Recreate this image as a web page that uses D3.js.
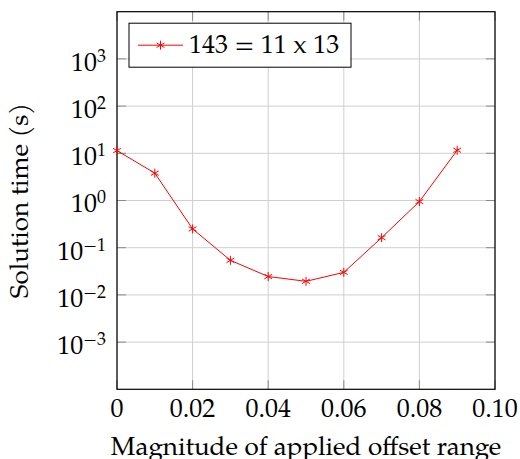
<!DOCTYPE html>
<html>
<head>
<meta charset="utf-8">
<script src="https://cdn.jsdelivr.net/npm/d3@7"></script>
</head>
<body style="margin:0; background:#fff">
<svg id="chart"></svg>
<script>
const offsets = [0, 0.01, 0.02, 0.03, 0.04, 0.05, 0.06, 0.07, 0.08, 0.09];
const times = [11.4, 3.8, 0.25, 0.054, 0.0245, 0.0194, 0.030, 0.163, 0.95, 11.6];
const xTicks = [0, 0.02, 0.04, 0.06, 0.08, 0.10];
const xTickLabels = ["0", "0.02", "0.04", "0.06", "0.08", "0.10"];
const yExponents = [-3, -2, -1, 0, 1, 2, 3];
const seriesName = "143 = 11 x 13";

const svgWidth = 520, svgHeight = 459;
const margin = { top: 11.7, right: 25, bottom: 69.7, left: 117 };
const width = svgWidth - margin.left - margin.right;
const height = svgHeight - margin.top - margin.bottom;
const font = "'TeX Gyre Pagella', 'Liberation Serif', serif";

const svg = d3.select("#chart")
  .attr("width", svgWidth)
  .attr("height", svgHeight)
  .append("g")
  .attr("transform", `translate(${margin.left},${margin.top})`);

const xScale = d3.scaleLinear().domain([0, 0.1]).range([0, width]);
const yScale = d3.scaleLog().domain([1e-4, 1e4]).range([height, 0]);

// grid
svg.append("g").selectAll("line")
  .data(xTicks)
  .enter().append("line")
  .attr("x1", d => xScale(d)).attr("x2", d => xScale(d))
  .attr("y1", 0).attr("y2", height)
  .attr("stroke", "#cfcfcf").attr("stroke-width", 1);

svg.append("g").selectAll("line")
  .data(yExponents)
  .enter().append("line")
  .attr("x1", 0).attr("x2", width)
  .attr("y1", d => yScale(Math.pow(10, d))).attr("y2", d => yScale(Math.pow(10, d)))
  .attr("stroke", "#cfcfcf").attr("stroke-width", 1);

// inner tick marks on all four sides
const tickLen = 9;
const tickColor = "#8a8a8a";
xTicks.forEach(t => {
  [[0, tickLen], [height, height - tickLen]].forEach(([a, b]) => {
    svg.append("line")
      .attr("x1", xScale(t)).attr("x2", xScale(t))
      .attr("y1", a).attr("y2", b)
      .attr("stroke", tickColor).attr("stroke-width", 1);
  });
});
yExponents.forEach(e => {
  const y = yScale(Math.pow(10, e));
  [[0, tickLen], [width, width - tickLen]].forEach(([a, b]) => {
    svg.append("line")
      .attr("x1", a).attr("x2", b)
      .attr("y1", y).attr("y2", y)
      .attr("stroke", tickColor).attr("stroke-width", 1);
  });
});

// frame
svg.append("rect")
  .attr("x", 0).attr("y", 0)
  .attr("width", width).attr("height", height)
  .attr("fill", "none").attr("stroke", "#000").attr("stroke-width", 1.2);

// x tick labels
svg.append("g").selectAll("text")
  .data(xTicks)
  .enter().append("text")
  .attr("x", d => xScale(d))
  .attr("y", height + 28)
  .attr("text-anchor", "middle")
  .style("font-family", font)
  .style("font-size", "26px")
  .text((d, i) => xTickLabels[i]);

// y tick labels 10^e
const yLab = svg.append("g").selectAll("text")
  .data(yExponents)
  .enter().append("text")
  .attr("x", -11)
  .attr("y", d => yScale(Math.pow(10, d)) + 12)
  .attr("text-anchor", "end")
  .style("font-family", font)
  .style("font-size", "26px");
yLab.append("tspan").text("10");
yLab.append("tspan")
  .attr("dy", -9)
  .style("font-size", "18px")
  .text(d => d < 0 ? "\u2212" + Math.abs(d) : String(d));

// axis titles
svg.append("text")
  .attr("x", width / 2)
  .attr("y", height + 66)
  .attr("text-anchor", "middle")
  .style("font-family", font)
  .style("font-size", "26px")
  .text("Magnitude of applied offset range");

svg.append("text")
  .attr("transform", "rotate(-90)")
  .attr("x", -height / 2)
  .attr("y", -margin.left + 28)
  .attr("text-anchor", "middle")
  .style("font-family", font)
  .style("font-size", "26px")
  .text("Solution time (s)");

// series line
const line = d3.line()
  .x((d, i) => xScale(offsets[i]))
  .y(d => yScale(d));

svg.append("path")
  .datum(times)
  .attr("d", line)
  .attr("fill", "none")
  .attr("stroke", "#ff0000")
  .attr("stroke-width", 1);

function asterisk(g, r) {
  for (let k = 0; k < 3; k++) {
    const a = Math.PI / 2 + k * Math.PI / 3;
    g.append("line")
      .attr("x1", r * Math.cos(a)).attr("y1", r * Math.sin(a))
      .attr("x2", -r * Math.cos(a)).attr("y2", -r * Math.sin(a))
      .attr("stroke", "#ff0000").attr("stroke-width", 1);
  }
}

svg.append("g").selectAll("g")
  .data(times)
  .enter().append("g")
  .attr("transform", (d, i) => `translate(${xScale(offsets[i])},${yScale(d)})`)
  .each(function () { asterisk(d3.select(this), 4.5); });

// legend
const legend = svg.append("g").attr("transform", "translate(12,11.5)");
legend.append("rect")
  .attr("x", 0).attr("y", 0)
  .attr("width", 222).attr("height", 44)
  .attr("fill", "#fff").attr("stroke", "#000").attr("stroke-width", 1);
legend.append("line")
  .attr("x1", 9).attr("x2", 54)
  .attr("y1", 22).attr("y2", 22)
  .attr("stroke", "#ff0000").attr("stroke-width", 1);
asterisk(legend.append("g").attr("transform", "translate(31.5,22)"), 4.5);
legend.append("text")
  .attr("x", 60)
  .attr("y", 30)
  .style("font-family", font)
  .style("font-size", "26px")
  .text(seriesName);
</script>
</body>
</html>
